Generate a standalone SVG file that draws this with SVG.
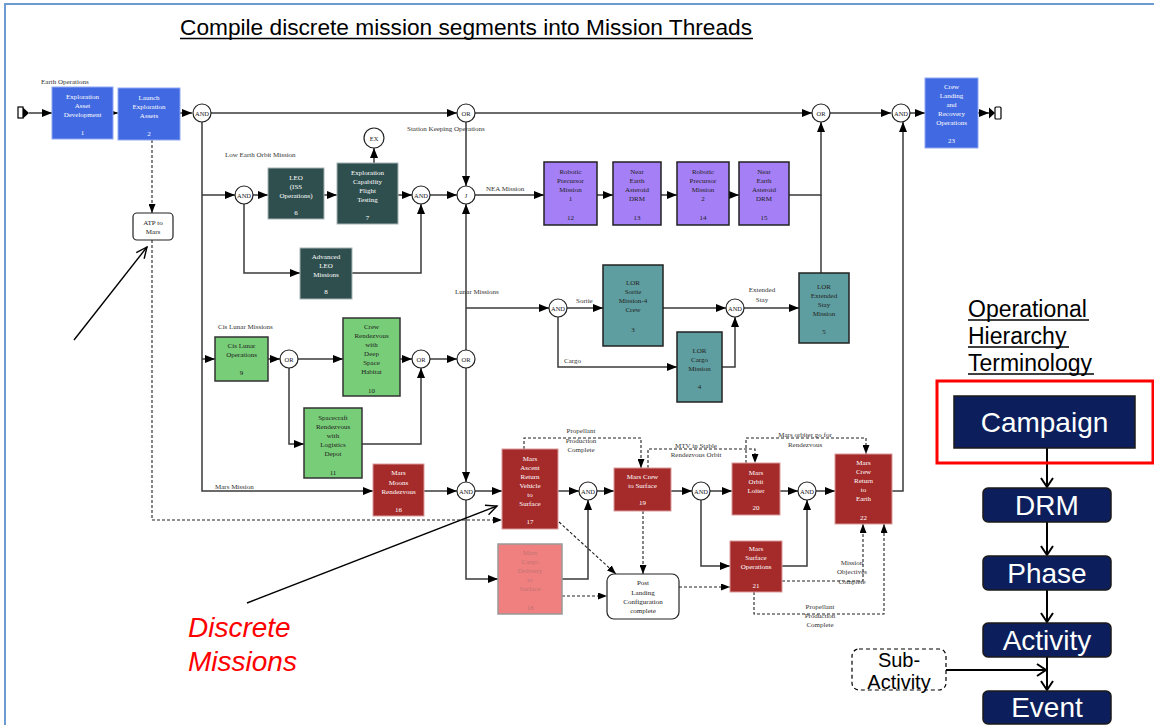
<svg xmlns="http://www.w3.org/2000/svg" width="1154" height="725" viewBox="0 0 1154 725">
<style>
  .t{font-family:"Liberation Serif","Times New Roman",serif;font-size:7px;text-anchor:middle}
  .lbl{font-family:"Liberation Serif","Times New Roman",serif;font-size:7px;fill:#333}
  .lm{text-anchor:middle}
  .w{fill:#fff}
  .k{fill:#222}
  .blue{fill:#4169e1;stroke:#8fa8f2;stroke-width:1}
  .slate{fill:#2f4f4f;stroke:#a8b4b4;stroke-width:1}
  .purple{fill:#a47ff6;stroke:#222;stroke-width:1.5}
  .teal{fill:#5f9ea0;stroke:#222;stroke-width:1.5}
  .green{fill:#78cd78;stroke:#333;stroke-width:1.5}
  .red{fill:#a52a2a;stroke:#d99a9a;stroke-width:1}
  .pink{fill:#f08080;stroke:#999;stroke-width:1.5}
  .gate circle{fill:#fff;stroke:#222;stroke-width:1.2}
  .gate text{font-family:"Liberation Serif","Times New Roman",serif;font-size:6.5px;text-anchor:middle;fill:#222}
  .note{fill:#fff;stroke:#222;stroke-width:1.2}
  .c{fill:none;stroke:#3a3a3a;stroke-width:1.5;marker-end:url(#ah)}
  .cn{fill:none;stroke:#3a3a3a;stroke-width:1.5}
  .d{fill:none;stroke:#222;stroke-width:1.1;stroke-dasharray:3 2;marker-end:url(#ahs)}
  .big{font-family:"Liberation Sans",Arial,sans-serif}
  .hier{fill:#0c1f5c;stroke:#1a1a1a;stroke-width:1.5}
  .hier-t{font-family:"Liberation Sans",Arial,sans-serif;font-size:28px;fill:#fff;text-anchor:middle}
  .ha{fill:none;stroke:#000;stroke-width:2;marker-end:url(#chev)}
</style>
<defs>
  <marker id="ah" markerUnits="userSpaceOnUse" markerWidth="10" markerHeight="8" refX="10" refY="4" orient="auto">
    <path d="M0,0 L10,4 L0,8 z" fill="#000"/>
  </marker>
  <marker id="ahs" markerUnits="userSpaceOnUse" markerWidth="9" markerHeight="7" refX="9" refY="3.5" orient="auto">
    <path d="M0,0 L9,3.5 L0,7 z" fill="#000"/>
  </marker>
  <marker id="chev" markerUnits="userSpaceOnUse" markerWidth="12" markerHeight="14" refX="10" refY="7" orient="auto">
    <path d="M1,1 L10,7 L1,13" fill="none" stroke="#000" stroke-width="2"/>
  </marker>
  <marker id="open" markerUnits="userSpaceOnUse" markerWidth="14" markerHeight="12" refX="12" refY="6" orient="auto">
    <path d="M1,1 L12,6 L1,11" fill="none" stroke="#000" stroke-width="1.4"/>
  </marker>
</defs>

<rect width="1154" height="725" fill="#fff"/>
<!-- slide frame -->
<rect x="5" y="4" width="1160" height="740" fill="none" stroke="#6c9bd2" stroke-width="2"/>

<!-- title -->
<text class="big" x="180" y="35" font-size="22.7" fill="#000">Compile discrete mission segments into Mission Threads</text>
<line x1="180" y1="38.5" x2="753" y2="38.5" stroke="#000" stroke-width="1.5"/>

<!-- connectors -->
<g id="connectors">
  <path class="c" d="M29,113 H52"/>
  <path class="c" d="M113,113 H118"/>
  <path class="c" d="M180,113 H192"/>
  <path class="c" d="M211,113 H457"/>
  <path class="c" d="M475,113 H812"/>
  <path class="c" d="M830,113 H891"/>
  <path class="c" d="M910,113 H925"/>
  <path class="c" d="M978,113 H989"/>
  <path class="c" d="M466,122 V186"/>
  <path class="c" d="M202,122 V491 H373"/>
  <path class="c" d="M202,195 H235"/>
  <path class="c" d="M202,359 H215"/>
  <path class="c" d="M253,195 H268"/>
  <path class="c" d="M324,195 H337"/>
  <path class="c" d="M398,195 H412"/>
  <path class="c" d="M430,195 H457"/>
  <path class="c" d="M244,204 V273 H300"/>
  <path class="c" d="M352,273 H421 V204"/>
  <path class="c" d="M475,195 H544"/>
  <path class="c" d="M597,195 H613"/>
  <path class="c" d="M661,195 H677"/>
  <path class="c" d="M729,195 H739"/>
  <path class="c" d="M789,195 H821 V122"/>
  <path class="cn" d="M821,273 V195"/>
  <path class="c" d="M466,350 V204"/>
  <path class="c" d="M466,368 V482"/>
  <path class="c" d="M466,308 H549"/>
  <path class="c" d="M567,308 H603"/>
  <path class="c" d="M663,308 H726"/>
  <path class="c" d="M744,308 H799"/>
  <path class="c" d="M558,317 V367 H677"/>
  <path class="c" d="M722,367 H735 V317"/>
  <path class="c" d="M268,359 H280"/>
  <path class="c" d="M298,359 H343"/>
  <path class="c" d="M400,359 H412"/>
  <path class="c" d="M430,359 H457"/>
  <path class="c" d="M289,368 V444 H304"/>
  <path class="c" d="M362,444 H421 V368"/>
  <path class="c" d="M424,491 H457"/>
  <path class="c" d="M475,491 H502"/>
  <path class="c" d="M558,491 H579"/>
  <path class="c" d="M597,491 H614"/>
  <path class="c" d="M671,491 H692"/>
  <path class="c" d="M710,491 H732"/>
  <path class="c" d="M780,491 H798"/>
  <path class="c" d="M816,491 H835"/>
  <path class="c" d="M892,491 H903 V122"/>
  <path class="c" d="M466,500 V579 H498"/>
  <path class="c" d="M562,579 H588 V500"/>
  <path class="c" d="M701,500 V566 H730"/>
  <path class="c" d="M782,566 H807 V500"/>
  <path class="c" d="M374,163 V148"/>

  <path class="d" d="M152,140 V213"/>
  <path class="d" d="M152,240 V520 H502" stroke="#555" stroke-width="1.6" stroke-dasharray="2 1.5"/>
  <path class="d" d="M524,449 V438 H641 V468"/>
  <path class="d" d="M648,468 V449 H755 V463"/>
  <path class="d" d="M746,463 V438 H866 V454"/>
  <path class="d" d="M643,511 V574"/>
  <path class="d" d="M559,522 L616,574"/>
  <path class="d" d="M562,596 H607"/>
  <path class="d" d="M679,587 H730"/>
  <path class="d" d="M782,581 H863 V524"/>
  <path class="d" d="M754,592 V614 H884 V524"/>

  <!-- callout arrows -->
  <path d="M74,340 L147,247" fill="none" stroke="#000" stroke-width="1.4" marker-end="url(#open)"/>
  <path d="M247,603 L497,506" fill="none" stroke="#000" stroke-width="1.4" marker-end="url(#open)"/>

  <!-- hierarchy arrows -->
  <path class="ha" d="M1047,448 V487"/>
  <path class="ha" d="M1047,522 V555"/>
  <path class="ha" d="M1047,590 V622"/>
  <path class="ha" d="M1047,657 V690"/>
  <path class="ha" d="M946,670 H1046"/>
</g>

<!-- connector labels -->
<g id="labels" class="lbl">
  <text x="41" y="84">Earth Operations</text>
  <text x="407" y="131">Station Keeping Operations</text>
  <text x="225" y="157">Low Earth Orbit Mission</text>
  <text x="486" y="191">NEA Mission</text>
  <text x="455" y="294">Lunar Missions</text>
  <text x="576" y="303">Sortie</text>
  <text x="564" y="363">Cargo</text>
  <text class="lm" x="762" y="292">Extended</text>
  <text class="lm" x="762" y="302">Stay</text>
  <text x="218" y="329">Cis Lunar Missions</text>
  <text x="215" y="489">Mars Mission</text>
  <text class="lm" x="581" y="433">Propellant</text>
  <text class="lm" x="581" y="443">Production</text>
  <text class="lm" x="581" y="452">Complete</text>
  <text class="lm" x="696" y="448">MTV in Stable</text>
  <text class="lm" x="696" y="457">Rendezvous Orbit</text>
  <text class="lm" x="805" y="437">Mars orbiter go for</text>
  <text class="lm" x="805" y="447">Rendezvous</text>
  <text class="lm" x="852" y="565">Mission</text>
  <text class="lm" x="852" y="574">Objectives</text>
  <text class="lm" x="852" y="584">Complete</text>
  <text class="lm" x="820" y="609">Propellant</text>
  <text class="lm" x="820" y="618">Production</text>
  <text class="lm" x="820" y="627">Complete</text>
</g>

<!-- terminators -->
<g id="start">
  <rect x="18" y="107" width="5" height="11" fill="#fff" stroke="#000" stroke-width="1.2"/>
  <path d="M23,107.5 L29,113 L23,118.5 z" fill="#000"/>
</g>
<g id="end">
  <path d="M989,107.5 L995,113 L989,118.5 z" fill="#000"/>
  <rect x="995" y="107" width="6" height="12" rx="1" fill="#fff" stroke="#000" stroke-width="1.2"/>
</g>

<!-- mission segments -->
<g id="n1"><rect class="blue" x="52" y="87" width="61" height="52"/>
  <text class="t w" x="82.5" y="99">Exploration</text><text class="t w" x="82.5" y="108">Asset</text><text class="t w" x="82.5" y="117">Development</text><text class="t w" x="82.5" y="135">1</text></g>
<g id="n2"><rect class="blue" x="118" y="88" width="62" height="52"/>
  <text class="t w" x="149" y="100">Launch</text><text class="t w" x="149" y="109">Exploration</text><text class="t w" x="149" y="118">Assets</text><text class="t w" x="149" y="136">2</text></g>
<g id="n6"><rect class="slate" x="268" y="168" width="56" height="51"/>
  <text class="t w" x="296" y="180">LEO</text><text class="t w" x="296" y="189">(ISS</text><text class="t w" x="296" y="198">Operations)</text><text class="t w" x="296" y="215">6</text></g>
<g id="n7"><rect class="slate" x="337" y="163" width="61" height="61"/>
  <text class="t w" x="367.5" y="175">Exploration</text><text class="t w" x="367.5" y="184">Capability</text><text class="t w" x="367.5" y="193">Flight</text><text class="t w" x="367.5" y="202">Testing</text><text class="t w" x="367.5" y="220">7</text></g>
<g id="n8"><rect class="slate" x="300" y="248" width="52" height="51"/>
  <text class="t w" x="326" y="259">Advanced</text><text class="t w" x="326" y="268">LEO</text><text class="t w" x="326" y="277">Missions</text><text class="t w" x="326" y="294">8</text></g>
<g id="n12"><rect class="purple" x="544" y="162" width="53" height="63"/>
  <text class="t k" x="570.5" y="174">Robotic</text><text class="t k" x="570.5" y="183">Precursor</text><text class="t k" x="570.5" y="192">Mission</text><text class="t k" x="570.5" y="201">1</text><text class="t k" x="570.5" y="220">12</text></g>
<g id="n13"><rect class="purple" x="613" y="162" width="48" height="63"/>
  <text class="t k" x="637" y="174">Near</text><text class="t k" x="637" y="183">Earth</text><text class="t k" x="637" y="192">Asteroid</text><text class="t k" x="637" y="201">DRM</text><text class="t k" x="637" y="220">13</text></g>
<g id="n14"><rect class="purple" x="677" y="162" width="52" height="63"/>
  <text class="t k" x="703" y="174">Robotic</text><text class="t k" x="703" y="183">Precursor</text><text class="t k" x="703" y="192">Mission</text><text class="t k" x="703" y="201">2</text><text class="t k" x="703" y="220">14</text></g>
<g id="n15"><rect class="purple" x="739" y="162" width="50" height="63"/>
  <text class="t k" x="764" y="174">Near</text><text class="t k" x="764" y="183">Earth</text><text class="t k" x="764" y="192">Asteroid</text><text class="t k" x="764" y="201">DRM</text><text class="t k" x="764" y="220">15</text></g>
<g id="n3"><rect class="teal" x="603" y="265" width="60" height="81"/>
  <text class="t k" x="633" y="285">LOR</text><text class="t k" x="633" y="294">Sortie</text><text class="t k" x="633" y="303">Mission-4</text><text class="t k" x="633" y="312">Crew</text><text class="t k" x="633" y="332">3</text></g>
<g id="n4"><rect class="teal" x="677" y="332" width="45" height="70"/>
  <text class="t k" x="699.5" y="353">LOR</text><text class="t k" x="699.5" y="362">Cargo</text><text class="t k" x="699.5" y="371">Mission</text><text class="t k" x="699.5" y="389">4</text></g>
<g id="n5"><rect class="teal" x="799" y="273" width="50" height="70"/>
  <text class="t k" x="824" y="289">LOR</text><text class="t k" x="824" y="298">Extended</text><text class="t k" x="824" y="307">Stay</text><text class="t k" x="824" y="316">Mission</text><text class="t k" x="824" y="334">5</text></g>
<g id="n9"><rect class="green" x="215" y="337" width="53" height="44"/>
  <text class="t k" x="241.5" y="348">Cis Lunar</text><text class="t k" x="241.5" y="357">Operations</text><text class="t k" x="241.5" y="375">9</text></g>
<g id="n10"><rect class="green" x="343" y="318" width="57" height="78"/>
  <text class="t k" x="371.5" y="329">Crew</text><text class="t k" x="371.5" y="338">Rendezvous</text><text class="t k" x="371.5" y="347">with</text><text class="t k" x="371.5" y="356">Deep</text><text class="t k" x="371.5" y="365">Space</text><text class="t k" x="371.5" y="374">Habitat</text><text class="t k" x="371.5" y="393">10</text></g>
<g id="n11"><rect class="green" x="304" y="408" width="58" height="70"/>
  <text class="t k" x="333" y="420">Spacecraft</text><text class="t k" x="333" y="429">Rendezvous</text><text class="t k" x="333" y="438">with</text><text class="t k" x="333" y="447">Logistics</text><text class="t k" x="333" y="456">Depot</text><text class="t k" x="333" y="475">11</text></g>
<g id="n16"><rect class="red" x="373" y="464" width="51" height="52"/>
  <text class="t w" x="398.5" y="475">Mars</text><text class="t w" x="398.5" y="485">Moons</text><text class="t w" x="398.5" y="494">Rendezvous</text><text class="t w" x="398.5" y="512">16</text></g>
<g id="n17"><rect class="red" x="502" y="449" width="56" height="80"/>
  <text class="t w" x="530" y="461">Mars</text><text class="t w" x="530" y="470">Ascent</text><text class="t w" x="530" y="479">Return</text><text class="t w" x="530" y="488">Vehicle</text><text class="t w" x="530" y="497">to</text><text class="t w" x="530" y="506">Surface</text><text class="t w" x="530" y="524">17</text></g>
<g id="n18"><rect class="pink" x="498" y="544" width="64" height="70"/>
  <text class="t" fill="#c27272" x="530" y="555">Mars</text><text class="t" fill="#c27272" x="530" y="564">Cargo</text><text class="t" fill="#c27272" x="530" y="573">Delivery</text><text class="t" fill="#c27272" x="530" y="582">to</text><text class="t" fill="#c27272" x="530" y="591">Surface</text><text class="t" fill="#c27272" x="530" y="610">18</text></g>
<g id="n19"><rect class="red" x="614" y="468" width="57" height="43"/>
  <text class="t w" x="642.5" y="479">Mars Crew</text><text class="t w" x="642.5" y="488">to Surface</text><text class="t w" x="642.5" y="505">19</text></g>
<g id="n20"><rect class="red" x="732" y="463" width="48" height="52"/>
  <text class="t w" x="756" y="475">Mars</text><text class="t w" x="756" y="484">Orbit</text><text class="t w" x="756" y="493">Loiter</text><text class="t w" x="756" y="510">20</text></g>
<g id="n21"><rect class="red" x="730" y="541" width="52" height="51"/>
  <text class="t w" x="756" y="551">Mars</text><text class="t w" x="756" y="560">Surface</text><text class="t w" x="756" y="569">Operations</text><text class="t w" x="756" y="588">21</text></g>
<g id="n22"><rect class="red" x="835" y="454" width="57" height="70"/>
  <text class="t w" x="863.5" y="465">Mars</text><text class="t w" x="863.5" y="474">Crew</text><text class="t w" x="863.5" y="483">Return</text><text class="t w" x="863.5" y="492">to</text><text class="t w" x="863.5" y="501">Earth</text><text class="t w" x="863.5" y="520">22</text></g>
<g id="n23"><rect class="blue" x="925" y="78" width="53" height="70"/>
  <text class="t w" x="951.5" y="89">Crew</text><text class="t w" x="951.5" y="98">Landing</text><text class="t w" x="951.5" y="107">and</text><text class="t w" x="951.5" y="116">Recovery</text><text class="t w" x="951.5" y="125">Operations</text><text class="t w" x="951.5" y="143">23</text></g>
<g id="atp"><rect class="note" x="133" y="213" width="40" height="27" rx="4"/>
  <text class="t k" x="153" y="225">ATP to</text><text class="t k" x="153" y="234">Mars</text></g>
<g id="post-landing"><rect class="note" x="607" y="574" width="72" height="45" rx="7"/>
  <text class="t k" x="643" y="585">Post</text><text class="t k" x="643" y="595">Landing</text><text class="t k" x="643" y="604">Configuration</text><text class="t k" x="643" y="613">complete</text></g>

<!-- logic gates -->
<g id="and1" class="gate"><circle cx="202" cy="113" r="9"/><text x="202" y="115.5">AND</text></g>
<g id="or1" class="gate"><circle cx="466" cy="113" r="9"/><text x="466" y="115.5">OR</text></g>
<g id="or2" class="gate"><circle cx="821" cy="113" r="9"/><text x="821" y="115.5">OR</text></g>
<g id="and2" class="gate"><circle cx="901" cy="113" r="9"/><text x="901" y="115.5">AND</text></g>
<g id="and3" class="gate"><circle cx="244" cy="195" r="9"/><text x="244" y="197.5">AND</text></g>
<g id="and4" class="gate"><circle cx="421" cy="195" r="9"/><text x="421" y="197.5">AND</text></g>
<g id="j" class="gate"><circle cx="466" cy="195" r="9"/><text x="466" y="197.5">J</text></g>
<g id="ex" class="gate"><circle cx="374" cy="138" r="10"/><text x="374" y="140.5">EX</text></g>
<g id="and6" class="gate"><circle cx="558" cy="308" r="9"/><text x="558" y="310.5">AND</text></g>
<g id="and7" class="gate"><circle cx="735" cy="308" r="9"/><text x="735" y="310.5">AND</text></g>
<g id="or4" class="gate"><circle cx="289" cy="359" r="9"/><text x="289" y="361.5">OR</text></g>
<g id="or5" class="gate"><circle cx="421" cy="359" r="9"/><text x="421" y="361.5">OR</text></g>
<g id="or3" class="gate"><circle cx="466" cy="359" r="9"/><text x="466" y="361.5">OR</text></g>
<g id="and5" class="gate"><circle cx="466" cy="491" r="9"/><text x="466" y="493.5">AND</text></g>
<g id="and8" class="gate"><circle cx="588" cy="491" r="9"/><text x="588" y="493.5">AND</text></g>
<g id="and9" class="gate"><circle cx="701" cy="491" r="9"/><text x="701" y="493.5">AND</text></g>
<g id="and10" class="gate"><circle cx="807" cy="491" r="9"/><text x="807" y="493.5">AND</text></g>

<!-- annotation -->
<g id="discrete-missions">
  <text class="big" x="188" y="637" font-size="28" font-style="italic" fill="#f00">Discrete</text>
  <text class="big" x="188" y="671" font-size="28" font-style="italic" fill="#f00">Missions</text>
</g>

<!-- terminology ladder -->
<g id="terminology-title" class="big" font-size="23" fill="#000">
  <text x="968" y="317">Operational</text>
  <text x="968" y="344">Hierarchy</text>
  <text x="968" y="371">Terminology</text>
  <line x1="968" y1="320" x2="1089" y2="320" stroke="#000" stroke-width="1.5"/>
  <line x1="968" y1="347" x2="1069" y2="347" stroke="#000" stroke-width="1.5"/>
  <line x1="968" y1="374" x2="1094" y2="374" stroke="#000" stroke-width="1.5"/>
</g>
<g id="campaign">
  <rect x="937" y="381" width="216" height="82" fill="none" stroke="#f00" stroke-width="3"/>
  <rect class="hier" x="954" y="396" width="181" height="52"/>
  <text class="hier-t" x="1044.5" y="432">Campaign</text>
</g>
<g id="drm"><rect class="hier" x="983" y="488" width="128" height="34" rx="5"/><text class="hier-t" x="1047" y="515">DRM</text></g>
<g id="phase"><rect class="hier" x="983" y="556" width="128" height="34" rx="5"/><text class="hier-t" x="1047" y="583">Phase</text></g>
<g id="activity"><rect class="hier" x="983" y="623" width="128" height="34" rx="5"/><text class="hier-t" x="1047" y="650">Activity</text></g>
<g id="event"><rect class="hier" x="983" y="691" width="128" height="33" rx="5"/><text class="hier-t" x="1047" y="717">Event</text></g>
<g id="sub-activity">
  <rect x="852" y="649" width="94" height="41" rx="7" fill="#fff" stroke="#000" stroke-width="1.2" stroke-dasharray="4 3"/>
  <text class="big" x="899" y="667" font-size="20" text-anchor="middle">Sub-</text>
  <text class="big" x="899" y="689" font-size="20" text-anchor="middle">Activity</text>
</g>
</svg>
